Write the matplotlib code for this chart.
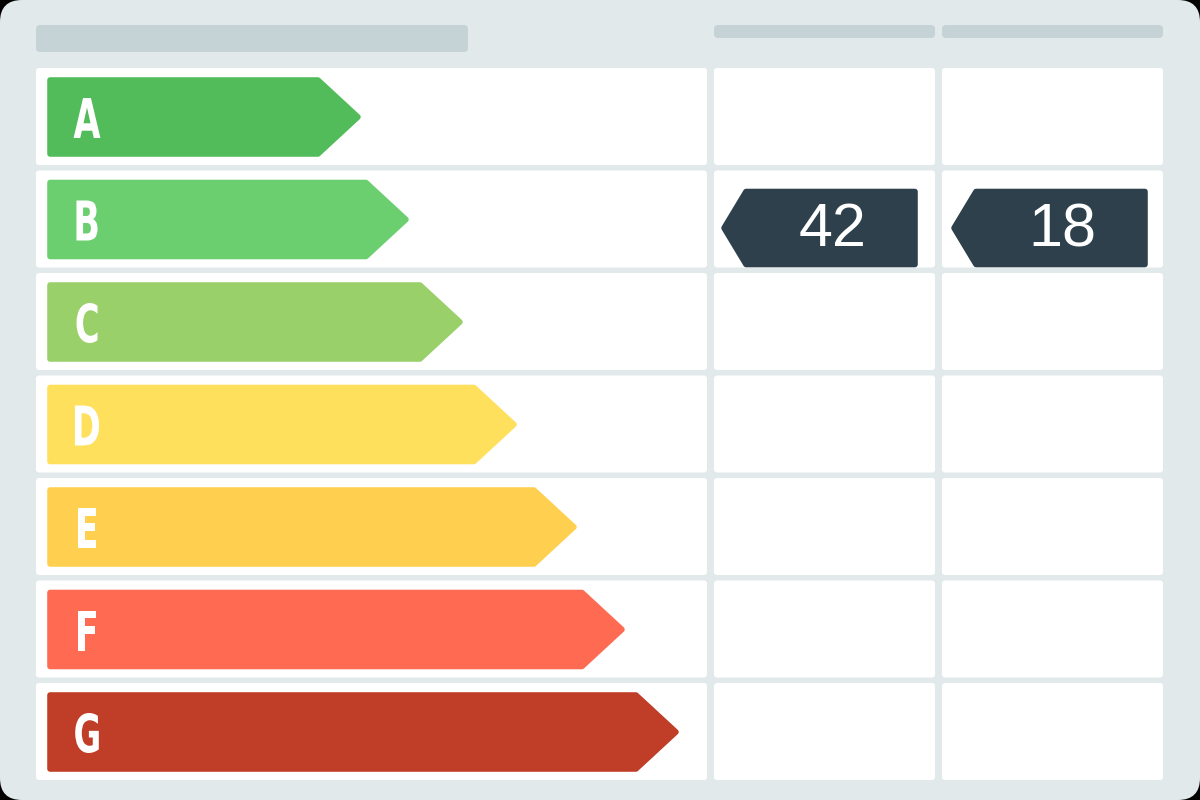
import matplotlib.pyplot as plt
from matplotlib.patches import FancyBboxPatch, Polygon, PathPatch
from matplotlib.textpath import TextPath
from matplotlib.font_manager import FontProperties
from matplotlib.transforms import Affine2D

ratings = ["A", "B", "C", "D", "E", "F", "G"]
colors = ["#52bb5a", "#6ccf6f", "#99d06a", "#ffe05c", "#ffd04f", "#fe6b52", "#c03d27"]
bar_ends = [360, 408, 462, 516, 576, 624, 678]   # arrow tip per band
current_rating, current_value = "B", 42
potential_rating, potential_value = "B", 18

fig = plt.figure(figsize=(12, 8), dpi=100, facecolor="black")
ax = fig.add_axes([0, 0, 1, 1])
ax.set_xlim(0, 1200)
ax.set_ylim(800, 0)
ax.axis("off")

def rbox(x0, y0, x1, y1, r, color, z=1):
    ax.add_patch(FancyBboxPatch((x0 + r, y0 + r), x1 - x0 - 2 * r, y1 - y0 - 2 * r,
                                boxstyle=f"round,pad={r}", fc=color, ec="none", zorder=z))

def narrow_letter(s, cx, cy, height=40, squeeze=0.64):
    # condensed bold letter drawn as a path, centred at (cx, cy)
    tp = TextPath((0, 0), s, size=100, prop=FontProperties(family="DejaVu Sans", weight="bold"))
    ext = tp.get_extents()
    sc = height / ext.height
    tr = (Affine2D().translate(-(ext.x0 + ext.x1) / 2, -(ext.y0 + ext.y1) / 2)
          .scale(sc * squeeze, -sc).translate(cx, cy))
    ax.add_patch(PathPatch(tr.transform_path(tp), fc="white", ec="none", zorder=3))

rbox(0, 0, 1200, 800, 22, "#e2e9eb", 0)
rbox(36, 25, 468, 52, 4, "#c6d3d6")
rbox(714, 25, 935, 38, 4, "#c6d3d6")
rbox(942, 25, 1163, 38, 4, "#c6d3d6")

pitch = 102.5
for i, (lab, col, end) in enumerate(zip(ratings, colors, bar_ends)):
    top = 68 + i * pitch
    bot = top + 97
    rbox(36, top, 707, bot, 3, "white")
    rbox(714, top, 935, bot, 3, "white")
    rbox(942, top, 1163, bot, 3, "white")
    t, b = top + 10, top + 88
    mid = (t + b) / 2
    pts = [(50, t + 2), (end - 42, t + 2), (end - 2, mid), (end - 42, b - 2), (50, b - 2)]
    ax.add_patch(Polygon(pts, closed=True, fc=col, ec=col, lw=4, joinstyle="round", zorder=2))
    narrow_letter(lab, 87, mid + 1)

def tag(x0, x1, rating, value):
    i = ratings.index(rating)
    t = 68 + i * pitch + 19
    b = t + 77
    mid = (t + b) / 2
    pts = [(x0 + 2, mid), (x0 + 24, t + 2), (x1 - 2, t + 2), (x1 - 2, b - 2), (x0 + 24, b - 2)]
    ax.add_patch(Polygon(pts, closed=True, fc="#2d404b", ec="#2d404b", lw=4, joinstyle="round", zorder=2))
    ax.text((x0 + 26 + x1) / 2, mid + 3, str(value), color="white", fontsize=44,
            family="Liberation Sans", ha="center", va="center", zorder=3)

tag(722, 917, current_rating, current_value)
tag(952, 1147, potential_rating, potential_value)

fig.savefig("out.png", dpi=100, facecolor="black")
